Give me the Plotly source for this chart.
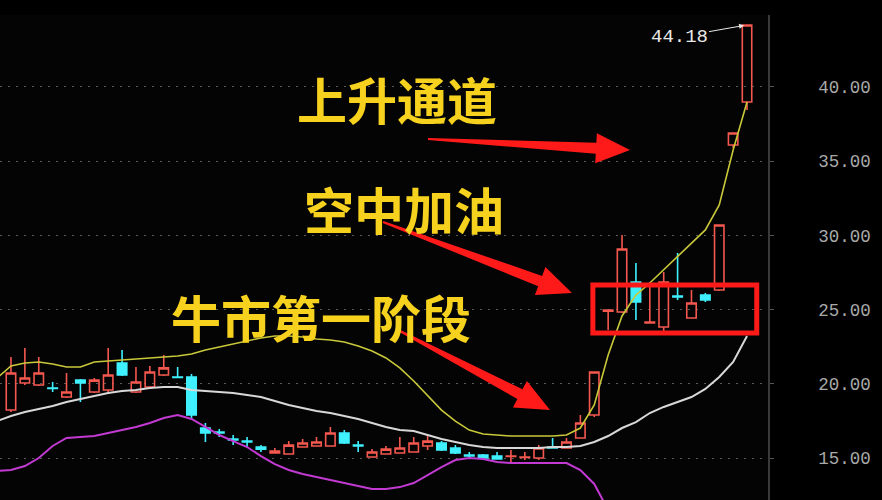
import plotly.graph_objects as go

# ---------------- data ----------------
idx = list(range(54))
opens = [18.23, 20.05, 19.92, 19.72, 19.11, 20.25, 19.45, 19.58, 21.40, 19.45,
         19.78, 20.59, 20.46, 20.46, 17.02, 16.75, 16.28, 16.14, 15.74, 15.34,
         15.27, 15.74, 15.81, 15.81, 16.68, 15.87, 15.07, 15.27, 15.34, 15.40,
         15.81, 16.01, 15.67, 15.20, 15.20, 15.13, 15.10, 15.03, 15.00, 15.74,
         15.67, 16.35, 17.90, 24.90, 24.84, 26.86, 24.10, 23.83, 25.92, 24.43,
         25.98, 26.32, 36.09, 38.99]
highs = [21.80, 22.41, 21.80, 20.12, 20.73, 20.32, 20.39, 22.41, 22.28, 21.13,
         21.20, 21.94, 21.13, 20.66, 17.36, 16.95, 16.55, 16.41, 15.87, 15.67,
         16.14, 16.28, 16.41, 17.09, 16.89, 16.14, 15.60, 15.81, 16.41, 16.41,
         16.55, 16.14, 15.87, 15.40, 15.27, 15.40, 15.54, 15.40, 15.87, 16.35,
         16.35, 17.90, 20.79, 24.97, 30.03, 28.14, 26.86, 27.53, 28.81, 26.32,
         26.12, 30.70, 36.90, 44.18]
lows = [18.10, 19.92, 19.85, 19.45, 19.04, 18.77, 19.38, 19.38, 20.52, 19.38,
        19.72, 20.52, 20.39, 17.63, 16.08, 16.41, 15.87, 15.74, 15.40, 15.34,
        15.27, 15.74, 15.81, 15.81, 15.94, 15.40, 15.07, 15.27, 15.34, 15.40,
        15.54, 15.47, 15.27, 15.07, 14.93, 14.93, 14.73, 14.86, 14.86, 15.64,
        15.67, 16.35, 17.76, 23.62, 24.77, 24.30, 24.10, 23.29, 25.65, 24.43,
        25.51, 26.25, 35.89, 38.45]
closes = [20.73, 20.39, 20.73, 19.69, 19.45, 20.05, 20.25, 20.59, 20.59, 20.12,
          20.79, 21.07, 20.43, 17.90, 16.68, 16.68, 16.21, 16.08, 15.60, 15.47,
          15.87, 16.01, 16.08, 16.68, 16.01, 15.81, 15.40, 15.60, 15.67, 16.01,
          16.14, 15.54, 15.34, 15.13, 15.00, 14.93, 15.13, 15.07, 15.67, 15.67,
          16.08, 17.36, 20.79, 24.97, 29.08, 25.51, 24.16, 26.86, 25.85, 25.44,
          25.65, 30.70, 36.90, 44.18]

band_idx = list(range(-1, 54))
boll_upper = [20.39, 21.20, 21.40, 21.47, 21.33, 21.13, 21.13, 21.47, 21.54, 21.60,
              21.67, 21.74, 21.80, 21.87, 22.01, 22.28, 22.48, 22.68, 22.88, 23.09,
              23.22, 23.22, 23.15, 23.02, 22.95, 22.82, 22.55, 22.21, 21.74, 21.07,
              20.19, 19.18, 18.23, 17.49, 16.88, 16.62, 16.55, 16.48, 16.48, 16.48,
              16.48, 16.55, 17.02, 18.57, 21.94, 24.57, 25.98, 26.79, 27.67, 28.61,
              29.49, 30.37, 32.05, 35.75, 38.99]
boll_mid = [17.49, 17.83, 18.10, 18.30, 18.50, 18.77, 18.97, 19.18, 19.38, 19.51,
            19.58, 19.72, 19.78, 19.78, 19.58, 19.51, 19.45, 19.38, 19.24, 19.11,
            18.84, 18.57, 18.37, 18.17, 18.03, 17.83, 17.63, 17.36, 17.09, 16.89,
            16.82, 16.55, 16.28, 16.08, 15.87, 15.74, 15.67, 15.67, 15.67, 15.67,
            15.74, 15.74, 15.81, 16.08, 16.48, 17.02, 17.42, 18.03, 18.44, 18.77,
            19.11, 19.65, 20.46, 21.47, 23.22]
boll_lower = [14.12, 14.19, 14.46, 15.00, 15.81, 16.35, 16.41, 16.48, 16.68, 16.89,
              17.09, 17.36, 17.69, 17.90, 17.63, 17.09, 16.55, 16.14, 15.74, 15.13,
              14.59, 14.19, 13.92, 13.72, 13.52, 13.31, 13.11, 12.91, 12.91, 13.04,
              13.31, 13.85, 14.39, 14.86, 15.00, 14.93, 14.73, 14.66, 14.66, 14.66,
              14.66, 14.66, 14.19, 13.25, 11.50, 10.20, 9.00, 8.20, 7.60, 7.20,
              7.00, 6.90, 7.00, 7.30, 7.80]

tick_vals = [15, 20, 25, 30, 35, 40]
peak_label = "44.18"
labels = ["上升通道", "空中加油", "牛市第一阶段"]

# ---------------- geometry helpers ----------------
W, H = 882, 500
ML, MR, MT, MB = 0, 114, 15, 0
PW, PH = W - ML - MR, H - MT - MB


def px(x):
    return (x - ML) / PW


def py(y):
    return (H - MB - y) / PH


def arrow_path(tail, tip, head_len=34, head_w=30, shaft_tail=2, shaft_head=11):
    import math
    (x0, y0), (x1, y1) = tail, tip
    dx, dy = x1 - x0, y1 - y0
    L = math.hypot(dx, dy)
    ux, uy = dx / L, dy / L
    nx, ny = -uy, ux
    bx, by = x1 - ux * head_len, y1 - uy * head_len
    pts = [
        (x0 + nx * shaft_tail / 2, y0 + ny * shaft_tail / 2),
        (bx + nx * shaft_head / 2, by + ny * shaft_head / 2),
        (bx + nx * head_w / 2, by + ny * head_w / 2),
        (x1, y1),
        (bx - nx * head_w / 2, by - ny * head_w / 2),
        (bx - nx * shaft_head / 2, by - ny * shaft_head / 2),
        (x0 - nx * shaft_tail / 2, y0 - ny * shaft_tail / 2),
    ]
    return "M " + " L ".join(f"{px(a):.5f},{py(b):.5f}" for a, b in pts) + " Z"


# ---------------- figure ----------------
fig = go.Figure()

fig.add_trace(go.Scatter(x=band_idx, y=boll_lower, mode="lines",
                         line=dict(color="#c23ad2", width=2), hoverinfo="skip"))
fig.add_trace(go.Scatter(x=band_idx, y=boll_mid, mode="lines",
                         line=dict(color="#d8d8d8", width=2), hoverinfo="skip"))
fig.add_trace(go.Scatter(x=band_idx, y=boll_upper, mode="lines",
                         line=dict(color="#c9c83a", width=1.6), hoverinfo="skip"))

fig.add_trace(go.Candlestick(
    x=idx, open=opens, high=highs, low=lows, close=closes,
    increasing=dict(line=dict(color="#f4584f", width=1.6), fillcolor="rgba(0,0,0,0)"),
    decreasing=dict(line=dict(color="#3ff0ff", width=1.6), fillcolor="#3ff0ff"),
    hoverinfo="skip",
))

shapes = []
# red highlight box
shapes.append(dict(type="rect", xref="x", yref="y", x0=41.9, x1=53.7, y0=23.42, y1=26.66,
                   line=dict(color="#ff1a1a", width=5), fillcolor="rgba(0,0,0,0)"))
# red arrows
for tail, tip in [((428, 139), (630, 150)), ((383, 222), (572, 293)), ((398, 330), (550, 410))]:
    shapes.append(dict(type="path", xref="paper", yref="paper", path=arrow_path(tail, tip),
                       fillcolor="#ff1a1a", line=dict(width=0)))

annotations = []
cjk = "Noto Sans CJK SC"
for text, (cx, cy) in zip(labels, [(397, 98), (404, 208), (321, 316)]):
    annotations.append(dict(text=f"<b>{text}</b>", x=px(cx), y=py(cy), xref="paper", yref="paper",
                            showarrow=False, font=dict(family=cjk, size=50, color="#f6d21e"),
                            xanchor="center", yanchor="middle"))

annotations.append(dict(text=peak_label, x=53, y=highs[-1], xref="x", yref="y",
                        ax=-68, ay=12, showarrow=True, arrowhead=2, arrowsize=1,
                        arrowwidth=1, arrowcolor="#e8e8e8", standoff=3,
                        font=dict(family="Liberation Mono", size=19, color="#e8e8e8")))

fig.update_layout(
    width=W, height=H,
    margin=dict(l=ML, r=MR, t=MT, b=MB),
    paper_bgcolor="#000000",
    plot_bgcolor="#040404",
    showlegend=False,
    boxgap=0.32, boxgroupgap=0,
    shapes=shapes,
    annotations=annotations,
    xaxis=dict(range=[-0.79, 54.51], visible=False, rangeslider=dict(visible=False),
               showgrid=False, zeroline=False),
    yaxis=dict(range=[12.17, 44.85], side="right", tickvals=tick_vals, tickformat=".2f",
               showline=True, linecolor="#3a3a3a", linewidth=1.5,
               ticks="outside", ticklen=4, tickcolor="#555555",
               ticklabelstandoff=41,
               tickfont=dict(family="Liberation Mono", size=17.5, color="#a9a9a9"),
               showgrid=True, gridcolor="#5a5a5a", gridwidth=1, griddash="2px,6px",
               zeroline=False),
)

fig.write_html("out.html",
               config={"displayModeBar": False},
               post_script="document.body.style.margin='0';document.body.style.padding='0';"
                           "document.body.style.background='#000';")
